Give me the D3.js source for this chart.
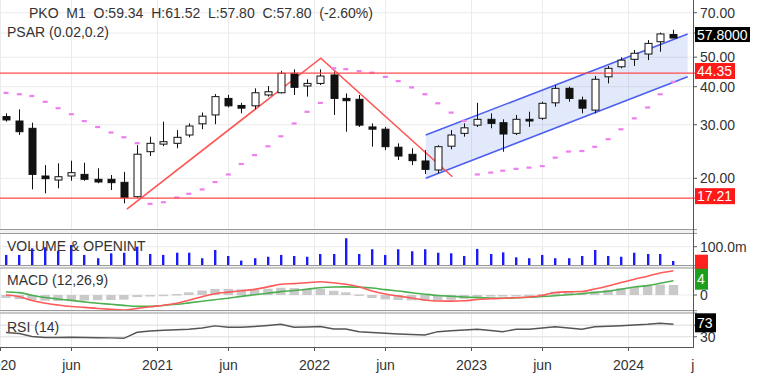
<!DOCTYPE html>
<html><head><meta charset="utf-8">
<script src="https://cdn.jsdelivr.net/npm/d3@7"></script>
<style>body{margin:0;background:#fff}svg{display:block;font-family:"Liberation Sans",Arial,sans-serif}</style>
</head><body><svg id="c" width="779" height="378"></svg>
<script>
// ---------- DATA ----------
const months = ["2020-01","2020-02","2020-03","2020-04","2020-05","2020-06","2020-07","2020-08","2020-09","2020-10","2020-11","2020-12",
"2021-01","2021-02","2021-03","2021-04","2021-05","2021-06","2021-07","2021-08","2021-09","2021-10","2021-11","2021-12",
"2022-01","2022-02","2022-03","2022-04","2022-05","2022-06","2022-07","2022-08","2022-09","2022-10","2022-11","2022-12",
"2023-01","2023-02","2023-03","2023-04","2023-05","2023-06","2023-07","2023-08","2023-09","2023-10","2023-11","2023-12",
"2024-01","2024-02","2024-03","2024-04"];
const open  = [31.9,30.85,29.19,20.35,19.74,20.35,20.6,19.85,19.85,19.4,17.4,24.46,25.9,26.06,27.75,30.2,32.3,36.6,34.7,34.6,37.56,38.2,44.26,40.2,41.0,43.7,36.6,36.35,29.5,29.0,25.3,23.98,22.8,21.3,25.5,28.1,29.9,31.25,30.46,28.1,31.25,31.5,35.4,39.5,36.16,33.5,43.1,46.5,49.2,51.2,56.2,59.34];
const high  = [32.7,33.7,30.46,22.1,22.4,22.85,22.5,21.57,20.5,21.0,25.7,27.4,30.7,28.8,30.3,32.9,37.8,37.6,35.4,39.5,40.2,45.1,45.6,42.3,45.6,44.8,38.0,37.56,30.3,29.5,26.06,25.1,24.77,25.7,28.8,30.3,35.4,32.7,31.25,32.3,33.1,35.7,40.5,40.0,37.1,43.36,46.8,49.95,52.8,56.9,60.2,61.52];
const low   = [30.7,27.75,18.4,17.85,18.54,19.64,19.64,19.26,18.3,16.55,17.21,23.67,25.5,25.1,27.27,29.0,30.1,34.2,32.7,33.7,37.1,38.0,37.56,37.1,40.5,32.3,28.45,29.5,25.4,24.77,22.97,22.1,20.66,20.77,24.9,27.4,29.5,29.2,24.46,27.75,29.5,31.1,34.4,35.7,32.7,32.7,41.0,45.96,46.8,48.9,52.1,57.8];
const close = [31.1,28.45,20.6,19.94,20.24,20.87,19.85,19.45,19.35,17.27,24.0,26.06,26.38,27.27,29.7,32.0,37.1,34.6,34.0,38.2,38.5,44.26,39.8,41.0,43.36,36.6,35.97,29.9,29.0,25.4,23.67,22.85,21.4,25.4,27.75,29.3,31.25,30.3,27.96,31.25,30.85,35.27,39.5,36.6,34.0,42.3,45.96,48.9,51.5,55.5,59.6,57.8];
const volume = [55,55,91,97,78,109,55,37,64,67,100,60,55,67,67,37,82,49,24,37,45,55,49,45,60,60,146,60,86,55,86,75,86,67,64,49,88,60,69,42,37,55,37,37,49,82,49,45,67,60,60,22];
const psar = [38.2,37.8,37.3,35.7,34.0,32.5,30.85,29.5,28.3,27.3,26.1,16.5,16.7,17.3,17.8,18.4,19.45,20.6,22.3,23.85,25.5,27.5,30.3,33.1,35.4,46.0,45.7,45.0,44.5,43.1,41.75,39.8,37.8,35.3,32.9,30.9,20.6,20.9,21.2,21.5,21.7,21.95,23.4,24.5,24.6,25.4,26.9,29.0,31.5,34.2,37.8,41.5];
const macd = [0.0,-0.45,-1.47,-2.19,-2.67,-3.07,-3.31,-3.6,-3.81,-4.0,-3.6,-3.15,-2.72,-2.21,-1.39,-0.48,0.35,0.77,1.12,1.49,2.16,2.85,3.04,3.25,3.55,3.25,2.88,2.19,1.07,0.27,-0.27,-0.8,-1.33,-1.6,-1.63,-1.55,-1.2,-1.01,-0.85,-0.75,-0.53,-0.13,0.67,0.85,0.93,1.6,2.4,3.33,4.21,5.01,5.87,6.48];
const signal = [0.8,0.64,-0.05,-0.67,-1.07,-1.44,-1.84,-2.21,-2.48,-2.77,-3.04,-3.04,-2.8,-2.48,-2.11,-1.68,-1.25,-0.85,-0.37,0.05,0.48,0.91,1.2,1.55,1.95,2.13,2.16,2.05,1.87,1.44,1.07,0.61,0.21,-0.13,-0.35,-0.53,-0.69,-0.8,-0.85,-0.75,-0.61,-0.4,-0.21,0.05,0.37,0.69,1.01,1.52,2.13,2.51,3.12,3.81];
const rsi = [44.8,41.4,31.0,27.6,27.6,28.3,27.6,26.9,26.2,24.8,45.5,50,52.4,54.1,56.2,60.3,67.6,62.8,62.8,65.5,69,73.1,62.8,63.8,65.5,56.9,56.9,47.6,44.8,42.1,39.7,37.9,36.2,47.6,51,53.4,55.9,51.7,47.6,55.9,55.9,60.3,64.8,60.3,55.9,64.8,66.6,68.3,70.7,73.1,76.6,73.1];
const hLevels = [44.35, 17.21];
const trendLine = [["2020-10-22",15.85],["2022-01-16",49.6],["2022-11-18",20.24]];
const channelUpper = [["2022-09-17",27.75],["2024-05-18",59.6]];
const channelLower = [["2022-09-17",20.0],["2024-05-18",43.1]];
const priceTicks = [20,30,40,50,60,70];
const volTicks = [100];
const macdTicks = [0];
const rsiTicks = [30,70];
const timeTicks = [["2020-01-01","2020"],["2020-06-15","jun"],["2021-01-01","2021"],["2021-06-15","jun"],["2022-01-01","2022"],["2022-06-15","jun"],["2023-01-01","2023"],["2023-06-15","jun"],["2024-01-01","2024"],["2024-06-15","jun"]];
const header = "PKO  M1  O:59.34  H:61.52  L:57.80  C:57.80  (-2.60%)";

// ---------- SCALES ----------
const pm = d3.timeParse("%Y-%m"), pd = d3.timeParse("%Y-%m-%d");
const dates = months.map(m => d3.timeDay.offset(pm(m), 14));
const W = 693;
const x = d3.scaleTime().domain([pd("2020-01-01"), pd("2024-01-01")]).range([0, 628.3]);
const y = d3.scaleLog().domain([20, 70]).range([178.3, 12.7]);
const yv = d3.scaleLinear().domain([0, 100]).range([265, 246.7]);
const ym = d3.scaleLinear().domain([0, 4]).range([295, 280]);
const yr = d3.scaleLinear().domain([0, 100]).range([345.5, 316.5]);

const svg = d3.select("#c");
const defs = svg.append("defs");
const clip = (id, y0, y1) => defs.append("clipPath").attr("id", id).append("rect").attr("x", 0).attr("y", y0).attr("width", W).attr("height", y1 - y0);
clip("cm", 0, 229); clip("cv", 234, 265); clip("cd", 268.5, 310); clip("cr", 313.5, 347);
clip("cx", 0, 378); defs.select("#cx rect").attr("width", 694);

// ---------- GRID ----------
const grid = svg.append("g").attr("stroke", "#ebebeb").attr("stroke-width", 1);
timeTicks.forEach(t => { const xx = Math.round(x(pd(t[0]))) + 0.5; if (xx < W) grid.append("line").attr("x1", xx).attr("x2", xx).attr("y1", 0).attr("y2", 347); });
priceTicks.forEach(v => grid.append("line").attr("x1", 0).attr("x2", W).attr("y1", y(v)).attr("y2", y(v)));
volTicks.forEach(v => grid.append("line").attr("x1", 0).attr("x2", W).attr("y1", yv(v)).attr("y2", yv(v)));
macdTicks.forEach(v => grid.append("line").attr("x1", 0).attr("x2", W).attr("y1", ym(v)).attr("y2", ym(v)));
rsiTicks.forEach(v => grid.append("line").attr("x1", 0).attr("x2", W).attr("y1", yr(v)).attr("y2", yr(v)).attr("stroke", "#dcdcdc"));

// ---------- MAIN PANEL ----------
const main = svg.append("g").attr("clip-path", "url(#cm)");
// channel
const chArea = channelUpper.map((p, i) => ({ d: pd(p[0]), u: p[1], l: channelLower[i][1] }));
main.append("path").datum(chArea).attr("fill", "rgba(110,145,230,0.2)")
  .attr("d", d3.area().x(d => x(d.d)).y0(d => y(d.l)).y1(d => y(d.u)));
[channelUpper, channelLower].forEach(ch => main.append("path").datum(ch).attr("fill", "none").attr("stroke", "#4d5ff0").attr("stroke-width", 1.6)
  .attr("d", d3.line().x(d => x(pd(d[0]))).y(d => y(d[1]))));
// horizontal levels
hLevels.forEach(v => svg.append("line").attr("x1", 0).attr("x2", 697).attr("y1", y(v)).attr("y2", y(v)).attr("stroke", "#ff4a4a").attr("stroke-width", 1.3));
// trend line
main.append("path").datum(trendLine).attr("fill", "none").attr("stroke", "#ff5555").attr("stroke-width", 1.6)
  .attr("d", d3.line().x(d => x(pd(d[0]))).y(d => y(d[1])));
// psar
main.selectAll(".ps").data(psar).join("rect").attr("x", (d, i) => x(dates[i]) - 2.5).attr("y", d => y(d) - 1).attr("width", 5).attr("height", 2.2).attr("fill", "#ee7eee");
// candles
const cw = 7;
const cg = main.append("g").selectAll("g").data(dates).join("g");
cg.append("line").attr("x1", (d, i) => Math.round(x(d)) + 0.5).attr("x2", (d, i) => Math.round(x(d)) + 0.5)
  .attr("y1", (d, i) => y(high[i])).attr("y2", (d, i) => y(low[i])).attr("stroke", "#111").attr("stroke-width", 1);
cg.append("rect").attr("x", (d, i) => Math.round(x(d)) - cw / 2 + 0.5).attr("width", cw)
  .attr("y", (d, i) => y(Math.max(open[i], close[i])))
  .attr("height", (d, i) => Math.max(1, y(Math.min(open[i], close[i])) - y(Math.max(open[i], close[i]))))
  .attr("fill", (d, i) => close[i] >= open[i] ? "#fff" : "#111").attr("stroke", "#111").attr("stroke-width", 1);

// ---------- VOLUME ----------
svg.append("g").attr("clip-path", "url(#cv)").selectAll("rect").data(volume).join("rect")
  .attr("x", (d, i) => Math.round(x(dates[i])) - 1).attr("width", 2.4).attr("y", d => yv(d)).attr("height", d => yv(0) - yv(d)).attr("fill", "#1a1aff");

// ---------- MACD ----------
const mg = svg.append("g").attr("clip-path", "url(#cd)");
mg.selectAll("rect").data(macd).join("rect")
  .attr("x", (d, i) => x(dates[i]) - 4.7).attr("width", 9.4)
  .attr("y", (d, i) => Math.min(ym(d - signal[i]), ym(0))).attr("height", (d, i) => Math.max(1.5, Math.abs(ym(d - signal[i]) - ym(0))))
  .attr("fill", "#c9c9c9");
const ml = d3.line().x((d, i) => x(dates[i])).y(d => ym(d)).curve(d3.curveMonotoneX);
mg.append("path").datum(signal).attr("fill", "none").attr("stroke", "#4caf50").attr("stroke-width", 1.6).attr("d", ml);
mg.append("path").datum(macd).attr("fill", "none").attr("stroke", "#ff5a5a").attr("stroke-width", 1.6).attr("d", ml);

// ---------- RSI ----------
svg.append("g").attr("clip-path", "url(#cr)").append("path").datum(rsi).attr("fill", "none").attr("stroke", "#555").attr("stroke-width", 1.4)
  .attr("d", d3.line().x((d, i) => x(dates[i])).y(d => yr(d)));

// ---------- SEPARATORS & AXES ----------
const sep = svg.append("g");
[[229, 234], [265, 268.5], [310, 313.5]].forEach(([a, b]) => {
  sep.append("rect").attr("x", 0).attr("y", a).attr("width", 697).attr("height", b - a).attr("fill", "#f2f2f2");
  sep.append("line").attr("x1", 0).attr("x2", 697).attr("y1", a + 0.5).attr("y2", a + 0.5).attr("stroke", "#9a9a9a");
  sep.append("line").attr("x1", 0).attr("x2", 697).attr("y1", b - 0.5).attr("y2", b - 0.5).attr("stroke", "#9a9a9a");
});
svg.append("line").attr("x1", W + 0.5).attr("x2", W + 0.5).attr("y1", 0).attr("y2", 348).attr("stroke", "#555");
svg.append("line").attr("x1", 0).attr("x2", W + 1).attr("y1", 347.5).attr("y2", 347.5).attr("stroke", "#555");

const txt = (g, xx, yy, s, anchor) => g.append("text").attr("x", xx).attr("y", yy).attr("font-size", 14).attr("fill", "#333").attr("text-anchor", anchor || "start").text(s);
const rax = svg.append("g");
const rTick = (yy, s) => { rax.append("line").attr("x1", W).attr("x2", W + 4).attr("y1", yy).attr("y2", yy).attr("stroke", "#555"); txt(rax, 700, yy + 5, s); };
priceTicks.forEach(v => rTick(y(v), d3.format(".2f")(v)));
volTicks.forEach(v => rTick(yv(v), d3.format(".1f")(v) + "m"));
macdTicks.forEach(v => rTick(ym(v), String(v)));
rsiTicks.forEach(v => rTick(yr(v), String(v)));

// time axis
const xa = svg.append("g").attr("clip-path", "url(#cx)");
timeTicks.forEach(t => {
  const xx = Math.round(x(pd(t[0]))) + 0.5;
  xa.append("line").attr("x1", xx).attr("x2", xx).attr("y1", 347).attr("y2", 351).attr("stroke", "#555");
  txt(xa, xx, 370, t[1], "middle");
});

// value boxes
const box = (yy, s, bg, w, h) => {
  const g = svg.append("g");
  g.append("rect").attr("x", 695).attr("y", yy - h / 2).attr("width", w).attr("height", h).attr("fill", bg);
  g.append("text").attr("x", 697).attr("y", yy + 5).attr("font-size", 14).attr("fill", "#fff").text(s);
};
box(y(close[close.length - 1]) - 3.5, d3.format(".4f")(close[close.length - 1]), "#000", 55, 15);
hLevels.forEach(v => box(y(v) - 2, d3.format(".2f")(v), "#ff1a1a", 40, 16));
box(ym(macd[macd.length - 1]) - 7, "", "#ff2020", 13, 18);
box(ym(signal[signal.length - 1]) - 1.5, d3.format(".0f")(signal[signal.length - 1]), "#1e9e1e", 13, 21);
box(yr(rsi[rsi.length - 1]) - 1.5, d3.format(".0f")(rsi[rsi.length - 1]), "#000", 21, 19);

// titles
txt(svg, 29, 18, header).attr("xml:space", "preserve");
txt(svg, 7, 37, "PSAR (0.02,0.2)");
txt(svg, 7, 251, "VOLUME & OPENINT");
txt(svg, 7, 285, "MACD (12,26,9)");
txt(svg, 7, 331.5, "RSI (14)");
</script></body></html>
